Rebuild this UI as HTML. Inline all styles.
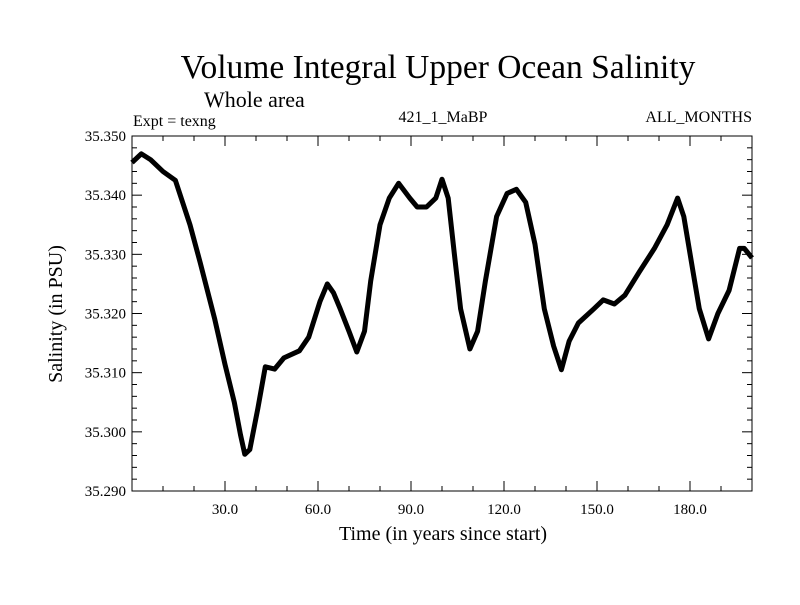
<!DOCTYPE html>
<html><head><meta charset="utf-8"><style>
html,body{margin:0;padding:0;background:#fff;}
svg text{font-family:"Liberation Serif",serif;fill:#000;}
</style></head><body>
<svg id="chart" width="800" height="600" xmlns="http://www.w3.org/2000/svg">
<text x="438" y="78" font-size="33.5" text-anchor="middle">Volume Integral Upper Ocean Salinity</text>
<text x="204" y="107" font-size="22">Whole area</text>
<text x="133" y="126" font-size="16">Expt = texng</text>
<text x="443" y="122" font-size="16" text-anchor="middle">421_1_MaBP</text>
<text x="752" y="122" font-size="16" text-anchor="end">ALL_MONTHS</text>
<rect x="132" y="136" width="620" height="355" fill="none" stroke="#000" stroke-width="1"/>
<g id="ticks"></g>
<path id="series" fill="none" stroke="#000" stroke-width="5" stroke-linejoin="round"/>
<text x="443" y="540" font-size="20" text-anchor="middle">Time (in years since start)</text>
<text x="0" y="0" font-size="20" text-anchor="middle" transform="translate(62,314) rotate(-90)">Salinity (in PSU)</text>
</svg>
<script>
const times=[0,3,6,10,14,18.7,22,26.7,30,33,35,36.4,38,40.6,43,46,49,54,57,60.6,63,65,67,70,72.5,75,77,80,83,86,89.6,92,95,98,100,102,104,106,109,111.5,114,117.6,121,124,127,130,133,136,138.5,141,144,149,152,155.6,159,163.6,168.5,172.6,176,178,181,183,186,189,192.6,196,197.5,200];
const salinity=[35.3455,35.347,35.346,35.344,35.3425,35.335,35.3286,35.319,35.3114,35.305,35.2995,35.2962,35.297,35.304,35.311,35.3106,35.3125,35.3137,35.316,35.322,35.325,35.3235,35.321,35.317,35.3135,35.317,35.3255,35.335,35.3395,35.342,35.3395,35.338,35.338,35.3395,35.3427,35.3395,35.330,35.3208,35.314,35.317,35.3255,35.3364,35.3403,35.341,35.3388,35.3317,35.3208,35.3145,35.3105,35.3153,35.3184,35.3208,35.3223,35.3216,35.3231,35.327,35.331,35.335,35.3395,35.3364,35.327,35.3208,35.3157,35.32,35.3239,35.331,35.331,35.3294];
const xMajor=[30,60,90,120,150,180];
const xMajorLabels=["30.0","60.0","90.0","120.0","150.0","180.0"];
const yMajor=[35.29,35.30,35.31,35.32,35.33,35.34,35.35];
const yMajorLabels=["35.290","35.300","35.310","35.320","35.330","35.340","35.350"];
const X0=132,X1=752,Y0=491,Y1=136;
const xs=t=>X0+(t-0)/(200-0)*(X1-X0);
const ys=v=>Y0-(v-35.29)/(35.35-35.29)*(Y0-Y1);
const NS="http://www.w3.org/2000/svg";
const g=document.getElementById('ticks');
function line(x1,y1,x2,y2,name){const l=document.createElementNS(NS,'line');
l.setAttribute('x1',x1);l.setAttribute('y1',y1);l.setAttribute('x2',x2);l.setAttribute('y2',y2);
l.setAttribute('stroke','#000');l.setAttribute('stroke-width','1');


g.appendChild(l);}
for(let t=10;t<200;t+=10){const x=xs(t);const major=t%30===0;const L=major?10:5;
line(x,Y0,x,Y0-L,'x-tick');line(x,Y1,x,Y1+L,'x-tick-top');}
for(let i=0;i<=30;i++){const v=35.29+i*0.002;const y=ys(v);const major=i%5===0;const L=major?10:5;
line(X0,y,X0+L,y,'y-tick');line(X1,y,X1-L,y,'y-tick-right');}
xMajor.forEach((t,i)=>{const tx=document.createElementNS(NS,'text');
tx.setAttribute('x',xs(t));tx.setAttribute('y',Y0+23);tx.setAttribute('font-size','15');tx.setAttribute('text-anchor','middle');
tx.textContent=xMajorLabels[i];


g.appendChild(tx);});
yMajor.forEach((v,i)=>{const tx=document.createElementNS(NS,'text');
tx.setAttribute('x',X0-6);tx.setAttribute('y',ys(v)+5);tx.setAttribute('font-size','15');tx.setAttribute('text-anchor','end');
tx.textContent=yMajorLabels[i];


g.appendChild(tx);});
document.getElementById('series').setAttribute('d',times.map((t,i)=>(i?'L':'M')+xs(t).toFixed(1)+','+ys(salinity[i]).toFixed(1)).join(' '));
</script>
</body></html>
